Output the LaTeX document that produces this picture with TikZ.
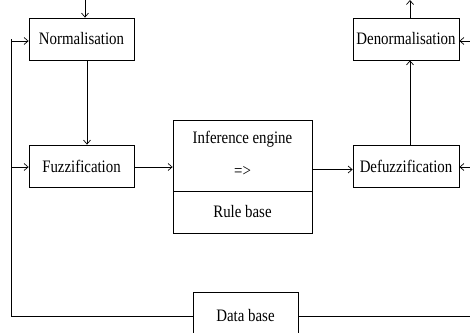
\documentclass[tikz,border=0pt]{standalone}
\usepackage{fontspec}
\setmainfont{Liberation Serif}[FakeStretch=0.85]
\usetikzlibrary{arrows.meta}
\begin{document}
\begin{tikzpicture}[x=1pt,y=1pt,
  line width=0.8pt,
  font=\fontsize{17.5}{20}\selectfont,
  blk/.style={draw, rectangle, inner sep=0pt},
  lbl/.style={inner sep=0pt, anchor=base},
  flow/.style={-{Straight Barb[length=4pt,width=7pt,line width=0.7pt]}}]
  \useasboundingbox (0,0) rectangle (470,332);
  \clip (0,0) rectangle (470,332);

  % processing blocks
  \node[blk, minimum width=105pt, minimum height=42pt] (norm)   at (81.5,293) {Normalisation};
  \node[blk, minimum width=105pt, minimum height=42pt] (fuzz)   at (81.5,166) {Fuzzification};
  \node[blk, minimum width=106pt, minimum height=42pt] (denorm) at (406,293)  {Denormalisation};
  \node[blk, minimum width=106pt, minimum height=42pt] (defuzz) at (406,166)  {Defuzzification};

  % inference engine with its rule base underneath
  \node[blk, minimum width=139pt, minimum height=71pt] (infer) at (242.5,176.5) {};
  \node[blk, minimum width=139pt, minimum height=42pt] (rules) at (242.5,120)   {Rule base};
  \node[lbl] (ietext) at (242.5,188) {Inference engine};
  \node[lbl] (imply)  at (242.5,155) {=>};

  % data base block (runs past the lower edge)
  \node[blk, minimum width=105pt, minimum height=48pt] (db) at (245.5,16) {};
  \node[lbl] (dbtext) at (245.5,11) {Data base};

  % bus lines at the left and right margins
  \coordinate (lbus) at (11,16);
  \coordinate (rbus) at (474,16);
  \coordinate (inN)  at (85,332);
  \coordinate (outD) at (410,332);

  % main signal path
  \draw[flow] (inN) -- (inN |- norm.north);
  \draw[flow] ([xshift=5.5pt]norm.south) -- ([xshift=5.5pt]fuzz.north);
  \draw[flow] ([yshift=-1pt]fuzz.east) -- ([yshift=-1pt]fuzz.east -| infer.west);
  \draw[flow] ([yshift=-14pt]infer.east) -- ([yshift=-14pt]infer.east -| defuzz.west);
  \draw[flow] ([xshift=4pt]defuzz.north) -- ([xshift=4pt]denorm.south);
  \draw[flow] ([xshift=4pt]denorm.north) -- ([xshift=4pt]denorm.north |- outD);

  % data base feeds both ends
  \draw (db.west) -- (lbus) -- (lbus |- norm.west);
  \draw[flow] ([yshift=-2pt]lbus |- norm.west) -- ([yshift=-2pt]norm.west);
  \draw[flow] ([yshift=-1pt]lbus |- fuzz.west) -- ([yshift=-1pt]fuzz.west);
  \draw (db.east) -- (rbus);
  \draw[flow] ([yshift=-2pt]rbus |- denorm.east) -- ([yshift=-2pt]denorm.east);
  \draw[flow] ([yshift=-1pt]rbus |- defuzz.east) -- ([yshift=-1pt]defuzz.east);
\end{tikzpicture}
\end{document}
